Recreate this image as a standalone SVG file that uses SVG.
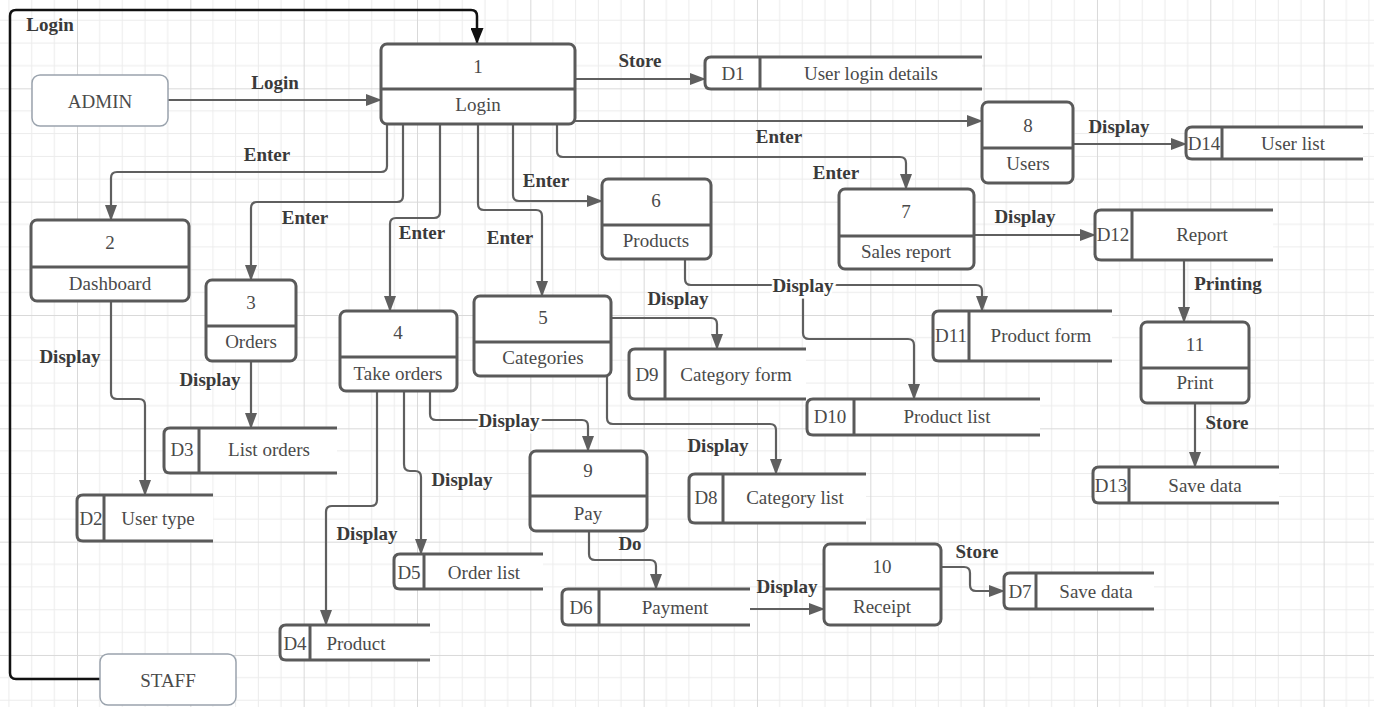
<svg xmlns="http://www.w3.org/2000/svg" width="1374" height="707" viewBox="0 0 1374 707">
<style>
.proc rect{fill:#fff;stroke:#5a5a5a;stroke-width:3}
.proc line,.store line{stroke:#5a5a5a;stroke-width:3}
.store path{fill:#fff;stroke:#5a5a5a;stroke-width:3}
.ext rect{fill:#fff;stroke:#9aa3ad;stroke-width:1.5}
text{font-family:"Liberation Serif",serif;font-size:19px;text-anchor:middle;dominant-baseline:central}
.t{fill:#4a4a4a}
.l{font-weight:bold;fill:#3a3a3a}
.halo{stroke:#fff;stroke-width:5;paint-order:stroke}
#conns path{fill:none;stroke:#5f5f5f;stroke-width:2.2;marker-end:url(#ah)}
#conns path.blk{stroke:#111;stroke-width:2.5;marker-end:url(#ahb)}
</style>
<defs>
<pattern id="grid" patternUnits="userSpaceOnUse" x="77" y="88.33" width="113.33" height="113.33">
<path d="M22.67,0V113.33M45.33,0V113.33M68,0V113.33M90.67,0V113.33M0,22.67H113.33M0,45.33H113.33M0,68H113.33M0,90.67H113.33" stroke="#ececec" stroke-width="1" fill="none"/>
<path d="M0.5,0V113.33M0,0.5H113.33" stroke="#d9d9d9" stroke-width="1" fill="none"/>
</pattern>
<marker id="ah" markerUnits="userSpaceOnUse" markerWidth="16" markerHeight="12" refX="15" refY="6" orient="auto"><path d="M0,0L16,6L0,12z" fill="#5f5f5f"/></marker>
<marker id="ahb" markerUnits="userSpaceOnUse" markerWidth="13" markerHeight="13" refX="15" refY="6.5" orient="auto"><path d="M0,0L16,6.5L0,13z" fill="#111"/></marker>
</defs>
<rect width="1374" height="707" fill="#fff"/>
<rect width="1374" height="707" fill="url(#grid)"/>

<g id="conns">
<path class="blk" d="M100,679H16Q10,679 10,673V16Q10,10 16,10H471Q477,10 477,16V43"/>
<path d="M168,100H381"/>
<path d="M575,79H705"/>
<path d="M575,121H982"/>
<path d="M557,124V151Q557,157 563,157H900Q906,157 906,163V189"/>
<path d="M513,124V195Q513,201 519,201H602"/>
<path d="M478,124V204Q478,210 484,210H536Q542,210 542,216V296"/>
<path d="M440,124V212Q440,218 434,218H396Q390,218 390,224V311"/>
<path d="M403,124V196Q403,202 397,202H257Q251,202 251,208V280"/>
<path d="M387,124V166Q387,172 381,172H117Q111,172 111,178V220"/>
<path d="M1073,144H1186"/>
<path d="M975,235H1095"/>
<path d="M1184,260V322"/>
<path d="M1195,403V467"/>
<path d="M685,259V279Q685,285 691,285H976Q982,285 982,291V311"/>
<path d="M803,290V333Q803,339 809,339H908Q914,339 914,345V399"/>
<path d="M611,318H711Q717,318 717,324V349"/>
<path d="M607,376V418Q607,424 613,424H770Q776,424 776,430V474"/>
<path d="M430,391V414Q430,420 436,420H582Q588,420 588,426V451"/>
<path d="M404,391V464Q404,471 410,471H415Q421,471 421,477V554"/>
<path d="M377,391V500Q377,506 371,506H332Q326,506 326,512V625"/>
<path d="M589,531V554Q589,560 595,560H650Q656,560 656,566V589"/>
<path d="M750,609H824"/>
<path d="M941,567H964Q970,567 970,573V585Q970,591 976,591H1004"/>
<path d="M111,301V393Q111,399 117,399H139Q145,399 145,405V495"/>
<path d="M251,361V428"/>
</g>

<g id="labels">
<text class="l" x="50" y="24">Login</text>
<text class="l" x="275" y="82">Login</text>
<text class="l" x="640" y="60">Store</text>
<text class="l" x="779" y="136">Enter</text>
<text class="l" x="836" y="172">Enter</text>
<text class="l" x="546" y="180">Enter</text>
<text class="l" x="510" y="237">Enter</text>
<text class="l" x="422" y="232">Enter</text>
<text class="l" x="305" y="217">Enter</text>
<text class="l" x="267" y="154">Enter</text>
<text class="l" x="1119" y="126">Display</text>
<text class="l" x="1025" y="216">Display</text>
<text class="l" x="1228" y="283">Printing</text>
<text class="l" x="1227" y="422">Store</text>
<text class="l halo" x="803" y="285">Display</text>
<text class="l" x="678" y="298">Display</text>
<text class="l" x="718" y="445">Display</text>
<text class="l halo" x="509" y="420">Display</text>
<text class="l" x="462" y="479">Display</text>
<text class="l" x="367" y="533">Display</text>
<text class="l" x="630" y="543">Do</text>
<text class="l" x="787" y="586">Display</text>
<text class="l" x="977" y="551">Store</text>
<text class="l" x="70" y="356">Display</text>
<text class="l" x="210" y="379">Display</text>
</g>

<g id="admin" class="ext"><rect x="32" y="75" width="136" height="51" rx="8"/><text class="t" x="100" y="101">ADMIN</text></g>
<g id="staff" class="ext"><rect x="100" y="654" width="136" height="51" rx="8"/><text class="t" x="168" y="680">STAFF</text></g>

<g id="p1" class="proc"><rect x="381" y="44" width="194" height="80" rx="6"/><line x1="381" y1="89" x2="575" y2="89"/><text class="t" x="478" y="66">1</text><text class="t" x="478" y="104">Login</text></g>
<g id="p2" class="proc"><rect x="31" y="220" width="158" height="81" rx="6"/><line x1="31" y1="267" x2="189" y2="267"/><text class="t" x="110" y="242">2</text><text class="t" x="110" y="283">Dashboard</text></g>
<g id="p3" class="proc"><rect x="206" y="280" width="90" height="81" rx="6"/><line x1="206" y1="326" x2="296" y2="326"/><text class="t" x="251" y="302">3</text><text class="t" x="251" y="341">Orders</text></g>
<g id="p4" class="proc"><rect x="340" y="311" width="117" height="80" rx="6"/><line x1="340" y1="357" x2="457" y2="357"/><text class="t" x="398" y="332">4</text><text class="t" x="398" y="373">Take orders</text></g>
<g id="p5" class="proc"><rect x="474" y="296" width="137" height="80" rx="6"/><line x1="474" y1="342" x2="611" y2="342"/><text class="t" x="543" y="317">5</text><text class="t" x="543" y="357">Categories</text></g>
<g id="p6" class="proc"><rect x="602" y="179" width="109" height="80" rx="6"/><line x1="602" y1="225" x2="711" y2="225"/><text class="t" x="656" y="200">6</text><text class="t" x="656" y="240">Products</text></g>
<g id="p7" class="proc"><rect x="839" y="189" width="135" height="80" rx="6"/><line x1="839" y1="236" x2="974" y2="236"/><text class="t" x="906" y="211">7</text><text class="t" x="906" y="251">Sales report</text></g>
<g id="p8" class="proc"><rect x="982" y="102" width="91" height="81" rx="6"/><line x1="982" y1="148" x2="1073" y2="148"/><text class="t" x="1028" y="125">8</text><text class="t" x="1028" y="163">Users</text></g>
<g id="p9" class="proc"><rect x="530" y="451" width="117" height="80" rx="6"/><line x1="530" y1="496" x2="647" y2="496"/><text class="t" x="588" y="470">9</text><text class="t" x="588" y="513">Pay</text></g>
<g id="p10" class="proc"><rect x="824" y="544" width="117" height="81" rx="6"/><line x1="824" y1="589" x2="941" y2="589"/><text class="t" x="882" y="566">10</text><text class="t" x="882" y="606">Receipt</text></g>
<g id="p11" class="proc"><rect x="1141" y="322" width="108" height="81" rx="6"/><line x1="1141" y1="368" x2="1249" y2="368"/><text class="t" x="1195" y="344">11</text><text class="t" x="1195" y="382">Print</text></g>

<g id="d1" class="store"><path d="M982,57H711Q705,57 705,63V83Q705,89 711,89H982"/><line x1="760" y1="57" x2="760" y2="89"/><text class="t" x="733" y="73">D1</text><text class="t" x="871" y="73">User login details</text></g>
<g id="d14" class="store"><path d="M1363,127H1192Q1186,127 1186,133V153Q1186,159 1192,159H1363"/><line x1="1222" y1="127" x2="1222" y2="159"/><text class="t" x="1204" y="143">D14</text><text class="t" x="1293" y="143">User list</text></g>
<g id="d12" class="store"><path d="M1273,210H1101Q1095,210 1095,216V254Q1095,260 1101,260H1273"/><line x1="1132" y1="210" x2="1132" y2="260"/><text class="t" x="1113" y="234">D12</text><text class="t" x="1202" y="234">Report</text></g>
<g id="d11" class="store"><path d="M1112,311H939Q933,311 933,317V355Q933,361 939,361H1112"/><line x1="969" y1="311" x2="969" y2="361"/><text class="t" x="951" y="335">D11</text><text class="t" x="1041" y="335">Product form</text></g>
<g id="d9" class="store"><path d="M806,349H635Q629,349 629,355V393Q629,399 635,399H806"/><line x1="665" y1="349" x2="665" y2="399"/><text class="t" x="647" y="374">D9</text><text class="t" x="736" y="374">Category form</text></g>
<g id="d10" class="store"><path d="M1040,399H813Q807,399 807,405V429Q807,435 813,435H1040"/><line x1="854" y1="399" x2="854" y2="435"/><text class="t" x="830" y="416">D10</text><text class="t" x="947" y="416">Product list</text></g>
<g id="d3" class="store"><path d="M337,428H170Q164,428 164,434V467Q164,473 170,473H337"/><line x1="199" y1="428" x2="199" y2="473"/><text class="t" x="182" y="449">D3</text><text class="t" x="269" y="449">List orders</text></g>
<g id="d2" class="store"><path d="M213,495H83Q77,495 77,501V535Q77,541 83,541H213"/><line x1="104" y1="495" x2="104" y2="541"/><text class="t" x="91" y="518">D2</text><text class="t" x="158" y="518">User type</text></g>
<g id="d8" class="store"><path d="M866,474H695Q689,474 689,480V517Q689,523 695,523H866"/><line x1="723" y1="474" x2="723" y2="523"/><text class="t" x="706" y="497">D8</text><text class="t" x="795" y="497">Category list</text></g>
<g id="d13" class="store"><path d="M1279,467H1099Q1093,467 1093,473V497Q1093,503 1099,503H1279"/><line x1="1129" y1="467" x2="1129" y2="503"/><text class="t" x="1111" y="485">D13</text><text class="t" x="1205" y="485">Save data</text></g>
<g id="d5" class="store"><path d="M543,554H400Q394,554 394,560V583Q394,589 400,589H543"/><line x1="424" y1="554" x2="424" y2="589"/><text class="t" x="409" y="572">D5</text><text class="t" x="484" y="572">Order list</text></g>
<g id="d4" class="store"><path d="M430,625H286Q280,625 280,631V654Q280,660 286,660H430"/><line x1="310" y1="625" x2="310" y2="660"/><text class="t" x="295" y="643">D4</text><text class="t" x="356" y="643">Product</text></g>
<g id="d6" class="store"><path d="M750,589H568Q562,589 562,595V619Q562,625 568,625H750"/><line x1="599" y1="589" x2="599" y2="625"/><text class="t" x="581" y="607">D6</text><text class="t" x="675" y="607">Payment</text></g>
<g id="d7" class="store"><path d="M1154,573H1010Q1004,573 1004,579V603Q1004,609 1010,609H1154"/><line x1="1036" y1="573" x2="1036" y2="609"/><text class="t" x="1020" y="591">D7</text><text class="t" x="1096" y="591">Save data</text></g>
</svg>
